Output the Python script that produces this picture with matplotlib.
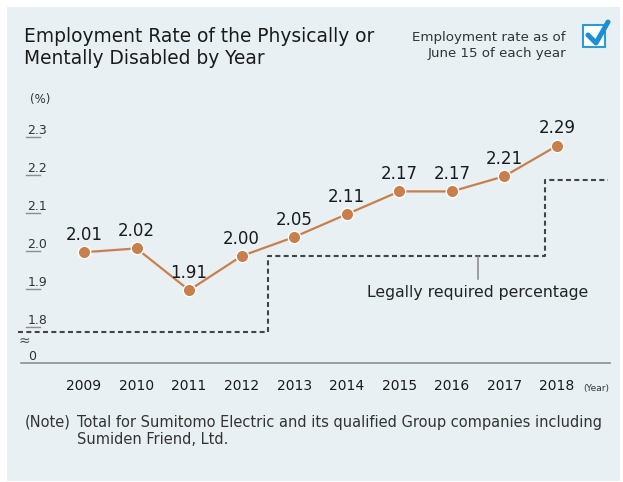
import matplotlib
matplotlib.use('Agg')
from matplotlib import pyplot as plt
from matplotlib.patches import Rectangle
from matplotlib.lines import Line2D

# data
years = [2009, 2010, 2011, 2012, 2013, 2014, 2015, 2016, 2017, 2018]
rates = [2.01, 2.02, 1.91, 2.00, 2.05, 2.11, 2.17, 2.17, 2.21, 2.29]
rate_labels = ['2.01', '2.02', '1.91', '2.00', '2.05', '2.11', '2.17', '2.17', '2.21', '2.29']
legal_x = [2007.75, 2012.5, 2012.5, 2017.78, 2017.78, 2018.97]
legal_y = [1.8, 1.8, 2.0, 2.0, 2.2, 2.2]
ytick_vals = [1.8, 1.9, 2.0, 2.1, 2.2, 2.3]

plt.rcParams['font.family'] = ['DejaVu Sans']

W, H = 623, 482
bg = '#e8f0f3'
orange = '#c97f4c'
txt = '#1a1a1a'

fig = plt.figure(figsize=(W / 100, H / 100), dpi=100)
fig.patch.set_facecolor('white')


def fx(x):
    return x / W


def fy(y):
    return 1 - y / H


# panel background
fig.patches.append(Rectangle((fx(7), fy(481)), fx(613), 474 / H, transform=fig.transFigure,
                             facecolor=bg, edgecolor='none', zorder=-5))

# axes placed so that years / rates land where they do in the source
ax_left, ax_right, ax_top, ax_bot = 18.3, 609.5, 85, 363.2
ax = fig.add_axes([fx(ax_left), fy(ax_bot), (ax_right - ax_left) / W, (ax_bot - ax_top) / H])
ax.set_facecolor('none')
ax.set_xlim(2007.75, 2019.0)
ax.set_ylim(1.718, 2.45)
for s in ax.spines.values():
    s.set_visible(False)
ax.set_xticks([])
ax.set_yticks([])
ax.axhline(1.718, xmin=0.005, xmax=1.0, color='#8a8f92', lw=1.2, clip_on=False)

# legal requirement line
ax.plot(legal_x, legal_y, color='#444444', lw=1.5, ls=(0, (2.4, 1.6)), zorder=2)
ax.plot([2016.5, 2016.5], [2.0, 1.94], color='#888888', lw=1.1, zorder=2)
ax.text(2016.5, 1.905, 'Legally required percentage', ha='center', va='center',
        fontsize=11.3, color='#222222')

# employment rate
ax.plot(years, rates, color=orange, lw=1.6, marker='o', markersize=9,
        markerfacecolor=orange, markeredgecolor='white', markeredgewidth=1.0, zorder=3)
for x, y, lab in zip(years, rates, rate_labels):
    ax.annotate(lab, (x, y), xytext=(0, 12.5), textcoords='offset points',
                ha='center', va='center', fontsize=12, color=txt)

# y ticks: short underline with the label sitting on it
tick_x0 = 2007.75 + (26 - ax_left) / 52.55
tick_x1 = 2007.75 + (40 - ax_left) / 52.55
for v in ytick_vals:
    ax.plot([tick_x0, tick_x1], [v + 0.012, v + 0.012], color='#8a8f92', lw=1.0, clip_on=False)
    ax.text(tick_x0 + 0.03, v + 0.013, f'{v:.1f}', ha='left', va='bottom', fontsize=9, color='#333333')
fig.text(fx(28), fy(357), '0', ha='left', va='center', fontsize=9, color='#333333')
fig.text(fx(19), fy(341), '≈', ha='left', va='center', fontsize=10, color='#555555')
fig.text(fx(30), fy(100), '(%)', ha='left', va='center', fontsize=8.5, color='#333333')

# x labels
for x in years:
    ax.text(x, 1.718 - 23 / 380, str(x), ha='center', va='center', fontsize=10, color=txt)
fig.text(fx(583), fy(389), '(Year)', ha='left', va='center', fontsize=6.5, color='#333333')

# title
fig.text(fx(24), fy(48), 'Employment Rate of the Physically or\nMentally Disabled by Year',
         ha='left', va='center', fontsize=13.4, color=txt, linespacing=1.2)

# legend box
fig.text(fx(566), fy(45), 'Employment rate as of\nJune 15 of each year', ha='right', va='center',
         multialignment='right', fontsize=9.6, color='#333333', linespacing=1.3)
fig.patches.append(Rectangle((fx(583), fy(47)), 22 / W, 22 / H, transform=fig.transFigure,
                             facecolor='white', edgecolor='#2a9bd8', lw=1.5, zorder=3))
fig.lines.append(Line2D([fx(588), fx(596), fx(608)], [fy(35), fy(43), fy(22)], transform=fig.transFigure,
                        color='#1a8fd6', lw=3.6, solid_capstyle='round', solid_joinstyle='round', zorder=4))

# note
fig.text(fx(25), fy(422), '(Note)', ha='left', va='center', fontsize=10.5, color='#333333')
fig.text(fx(77), fy(422), 'Total for Sumitomo Electric and its qualified Group companies including',
         ha='left', va='center', fontsize=10.5, color='#333333')
fig.text(fx(77), fy(440), 'Sumiden Friend, Ltd.', ha='left', va='center', fontsize=10.5, color='#333333')

fig.savefig('out.png', dpi=100, facecolor=fig.get_facecolor())
